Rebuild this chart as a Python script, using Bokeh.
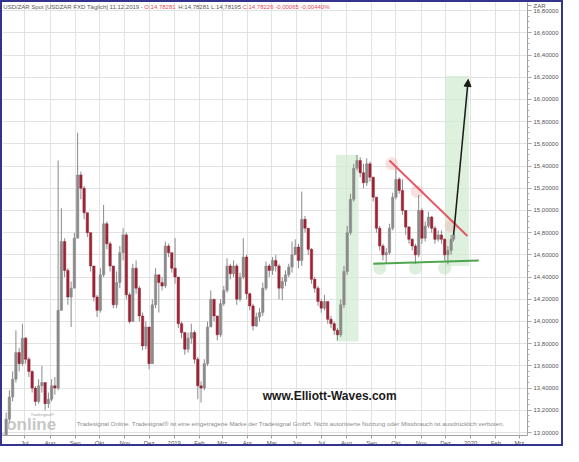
import pandas as pd
from bokeh.plotting import figure
from bokeh.models import ColumnDataSource, FixedTicker, Range1d, Label, Arrow, NormalHead
from bokeh.embed import file_html
from bokeh.resources import INLINE

# ---------------- data ----------------
BASE = "2018-06-04"
bar_dates = list(pd.date_range("2018-06-04", periods=139, freq="4D").strftime("%Y-%m-%d")) + ["2019-12-11"]
first_open = 12.75
closes = [
    12.95, 13.12, 13.32, 13.48, 13.72, 13.62, 13.85, 13.66, 13.55, 13.40,
    13.28, 13.42, 13.45, 13.26, 13.30, 13.42, 13.40, 14.10, 14.72, 14.46,
    14.22, 14.30, 14.75, 15.32, 15.20, 14.98, 14.80, 14.50, 14.22, 14.10,
    14.42, 14.88, 14.70, 14.50, 14.15, 14.35, 14.62, 14.78, 14.24, 14.00,
    14.48, 14.30, 14.05, 13.78, 13.95, 13.62, 14.15, 14.42, 14.35, 14.32,
    14.68, 14.62, 14.48, 14.40, 13.98, 13.90, 13.75, 13.85, 13.90, 13.66,
    13.42, 13.40, 13.62, 13.95, 14.20, 14.05, 13.88, 14.16, 14.28, 14.50,
    14.43, 14.50, 14.20, 14.40, 14.58, 14.25, 14.14, 13.96, 14.04, 14.08,
    14.30, 14.50, 14.46, 14.55, 14.50, 14.30, 14.36, 14.42, 14.49, 14.60,
    14.67, 14.55, 14.92, 14.84, 14.65, 14.38, 14.30, 14.18, 14.12, 14.18,
    14.02, 13.98, 13.92, 13.88, 14.15, 14.45, 14.80, 15.10, 15.38, 15.45,
    15.34, 15.25, 15.42, 15.30, 15.12, 14.84, 14.68, 14.60, 14.62, 14.84,
    15.12, 15.28, 15.18, 15.00, 14.85, 14.74, 14.68, 14.60, 15.00, 14.75,
    14.86, 14.94, 14.84, 14.74, 14.78, 14.74, 14.60, 14.64, 14.74, 14.78,
]
highs = [
    13.00, 13.18, 13.38, 13.55, 13.92, 13.76, 13.98, 13.86, 13.68, 13.56,
    13.42, 13.48, 13.60, 13.45, 13.36, 13.48, 13.50, 15.45, 15.02, 14.75,
    14.48, 14.36, 14.80, 15.70, 15.35, 15.22, 14.98, 14.80, 14.50, 14.24,
    14.48, 15.05, 14.90, 14.72, 14.50, 14.45, 14.68, 14.84, 14.80, 14.26,
    14.52, 14.55, 14.32, 14.08, 14.00, 13.95, 14.20, 14.48, 14.42, 14.40,
    14.72, 14.70, 14.62, 14.75, 14.40, 14.00, 13.90, 13.90, 13.98, 13.92,
    13.68, 13.46, 13.66, 14.00, 14.28, 14.20, 14.05, 14.20, 14.32, 14.57,
    14.52, 14.55, 14.52, 14.44, 14.75, 14.60, 14.26, 14.16, 14.08, 14.12,
    14.35, 14.54, 14.52, 14.58, 14.60, 14.52, 14.40, 14.46, 14.52, 14.72,
    14.74, 14.70, 15.17, 14.95, 14.84, 14.66, 14.40, 14.32, 14.20, 14.24,
    14.18, 14.05, 14.00, 13.94, 14.20, 14.50, 14.86, 15.15, 15.42, 15.50,
    15.48, 15.42, 15.47, 15.44, 15.30, 15.12, 14.86, 14.70, 14.66, 14.88,
    15.16, 15.38, 15.30, 15.28, 15.00, 14.86, 14.75, 14.70, 15.14, 15.02,
    14.90, 14.99, 14.95, 14.86, 14.82, 14.82, 14.75, 14.68, 14.78, 14.80,
]
lows = [
    12.80, 12.92, 13.08, 13.28, 13.45, 13.55, 13.60, 13.62, 13.50, 13.36,
    13.24, 13.26, 13.36, 13.20, 13.22, 13.28, 13.34, 13.38, 14.10, 14.40,
    14.15, 13.95, 14.30, 14.75, 15.10, 14.92, 14.76, 14.45, 14.18, 14.04,
    14.08, 14.40, 14.65, 14.45, 14.12, 14.12, 14.30, 14.55, 14.20, 13.98,
    14.00, 14.25, 14.00, 13.74, 13.75, 13.57, 13.62, 14.12, 14.08, 14.28,
    14.30, 14.58, 14.44, 14.34, 13.94, 13.85, 13.70, 13.72, 13.80, 13.62,
    13.30, 13.27, 13.38, 13.60, 13.95, 14.00, 13.83, 13.86, 14.14, 14.26,
    14.38, 14.40, 14.15, 14.18, 14.38, 14.20, 14.10, 13.92, 13.95, 14.00,
    14.05, 14.28, 14.40, 14.42, 14.45, 14.20, 14.19, 14.32, 14.40, 14.44,
    14.60, 14.48, 14.50, 14.80, 14.60, 14.34, 14.26, 14.14, 14.08, 14.10,
    13.98, 13.94, 13.88, 13.83, 13.86, 14.12, 14.42, 14.78, 15.08, 15.36,
    15.30, 15.20, 15.22, 15.26, 15.08, 14.80, 14.64, 14.55, 14.52, 14.60,
    14.82, 15.10, 15.15, 14.96, 14.78, 14.70, 14.64, 14.52, 14.58, 14.70,
    14.72, 14.84, 14.80, 14.70, 14.72, 14.70, 14.55, 14.52, 14.60, 14.72,
]

month_dates = ["2018-07-01", "2018-08-01", "2018-09-01", "2018-10-01", "2018-11-01", "2018-12-01",
               "2019-01-01", "2019-02-01", "2019-03-01", "2019-04-01", "2019-05-01", "2019-06-01",
               "2019-07-01", "2019-08-01", "2019-09-01", "2019-10-01", "2019-11-01", "2019-12-01",
               "2020-01-01", "2020-02-01", "2020-03-01"]
month_labels = ["Jul", "Aug", "Sep", "Okt", "Nov", "Dez", "2019", "Feb", "Mrz", "Apr", "Mai", "Jun",
                "Jul", "Aug", "Sep", "Okt", "Nov", "Dez", "2020", "Feb", "Mrz"]
y_ticks = [13.0, 13.2, 13.4, 13.6, 13.8, 14.0, 14.2, 14.4, 14.6, 14.8, 15.0, 15.2, 15.4, 15.6,
           15.8, 16.0, 16.2, 16.4, 16.6, 16.8]
y_tick_labels = ["13,00000", "13,20000", "13,40000", "13,60000", "13,80000", "14,00000", "14,20000",
                 "14,40000", "14,60000", "14,80000", "15,00000", "15,20000", "15,40000", "15,60000",
                 "15,80000", "16,00000", "16,20000", "16,40000", "16,60000", "16,80000"]
unit_label = "ZAR"

# drawn annotations (date, price)
zones = [("2019-07-19", "2019-08-16", 13.82, 15.50), ("2019-12-01", "2019-12-30", 14.50, 16.21)]
resistance = [("2019-09-23", 15.45), ("2019-12-28", 14.77)]
support = [("2019-09-03", 14.52), ("2020-01-11", 14.55)]
arrow_pts = [("2019-12-11", 14.78), ("2019-12-29", 16.18)]
peak_marks = [("2019-09-26", 15.42), ("2019-10-27", 15.17), ("2019-12-08", 14.86)]
trough_marks = [("2019-09-11", 14.48), ("2019-10-25", 14.48), ("2019-11-30", 14.48)]


def dnum(s):
    return (pd.Timestamp(s) - pd.Timestamp(BASE)).days


Y0, Y1 = 12.973, 16.873

# ---------------- figure ----------------
p = figure(width=563, height=446, output_backend="svg", toolbar_location=None,
           x_range=Range1d(-0.5, 646), y_range=Range1d(Y0, Y1),
           y_axis_location="right", min_border_left=0, min_border_right=38,
           min_border_top=0, min_border_bottom=12)
p.outline_line_color = None
p.background_fill_color = "white"
p.border_fill_color = "white"
p.styles = {"border": "2px solid #34348f"}

xt = [dnum(d) for d in month_dates]
p.xaxis.ticker = FixedTicker(ticks=xt)
p.xaxis.major_label_overrides = {k: v for k, v in zip(xt, month_labels)}
p.xaxis.major_label_text_align = "left"
p.xaxis.major_label_text_font_size = "6px"
p.xaxis.major_label_text_color = "#555555"
p.xaxis.major_label_standoff = 1
p.xaxis.major_tick_out = 3
p.xaxis.major_tick_in = 0
p.xaxis.axis_line_color = "#a0a0a0"
p.xaxis.major_tick_line_color = "#a0a0a0"
p.xaxis.minor_tick_line_color = None

unit_y = 16.845
minor = [13.0 + 0.05 * i for i in range(77)]
p.yaxis.ticker = FixedTicker(ticks=y_ticks + [unit_y], minor_ticks=minor)
overrides = {k: v for k, v in zip(y_ticks, y_tick_labels)}
overrides[unit_y] = unit_label
p.yaxis.major_label_overrides = overrides
p.yaxis.major_label_text_font_size = "6px"
p.yaxis.major_label_text_color = "#555555"
p.yaxis.major_label_standoff = 2
p.yaxis.major_tick_out = 4
p.yaxis.major_tick_in = 0
p.yaxis.minor_tick_out = 2
p.yaxis.minor_tick_in = 0
p.yaxis.axis_line_color = "#a0a0a0"
p.yaxis.major_tick_line_color = "#a0a0a0"
p.yaxis.minor_tick_line_color = "#b0b0b0"

p.xgrid.ticker = FixedTicker(ticks=xt)
p.ygrid.ticker = FixedTicker(ticks=y_ticks)
p.grid.grid_line_color = "#e2e2e2"
p.grid.grid_line_width = 1

# green zones
p.quad(left=[dnum(z[0]) for z in zones], right=[dnum(z[1]) for z in zones],
       bottom=[z[2] for z in zones], top=[z[3] for z in zones],
       fill_color="#d3ebd3", fill_alpha=0.75, line_color=None)

# peak / trough highlight blobs
p.scatter([dnum(a) for a, b in peak_marks], [b for a, b in peak_marks], size=13,
          fill_color="#f2a9a9", fill_alpha=0.35, line_color=None)
p.scatter([dnum(a) for a, b in trough_marks], [b for a, b in trough_marks], size=13,
          fill_color="#a9d9a9", fill_alpha=0.4, line_color=None)

# candles
xs = [dnum(d) for d in bar_dates]
opens = [first_open] + closes[:-1]
src = ColumnDataSource(dict(
    x=xs, high=highs, low=lows,
    top=[max(o, c) for o, c in zip(opens, closes)],
    bottom=[min(o, c) for o, c in zip(opens, closes)],
    color=["#8a8a8a" if c >= o else "#9a2536" for o, c in zip(opens, closes)],
))
p.segment(x0="x", y0="high", x1="x", y1="low", source=src, line_color="#8a8a8a", line_width=1)
p.vbar(x="x", width=3.0, top="top", bottom="bottom", source=src,
       fill_color="color", line_color="color", line_width=0.5)

# trend lines
p.line([dnum(a) for a, b in resistance], [b for a, b in resistance],
       line_color="#e0404f", line_width=2, line_alpha=0.85)
p.line([dnum(a) for a, b in support], [b for a, b in support],
       line_color="#3c9c3c", line_width=2, line_alpha=0.9)

# projection arrow
p.add_layout(Arrow(end=NormalHead(size=7, fill_color="#1a1a1a", line_color="#1a1a1a"),
                   x_start=dnum(arrow_pts[0][0]), y_start=arrow_pts[0][1],
                   x_end=dnum(arrow_pts[1][0]), y_end=arrow_pts[1][1],
                   line_color="#1a1a1a", line_width=1.5))

# header
hdr_y = 16.835
for xx, txt, col in [(0.5, "USD/ZAR Spot [USDZAR FXD Täglich] 11.12.2019 -", "#555555"),
                     (174, "O:14,78281", "#e0485a"),
                     (216, "H:14,78281 L:14,78195", "#555555"),
                     (295, "C:14,78226 -0,00065 -0,00440%", "#e0485a")]:
    p.add_layout(Label(x=xx, y=hdr_y, text=txt, text_font="Liberation Sans", text_font_size="6px",
                       text_color=col, text_baseline="middle"))

# watermark and footer
p.add_layout(Label(x=dnum("2019-04-20"), y=13.33, text="www.Elliott-Waves.com",
                   text_font="Liberation Sans", text_font_style="bold", text_font_size="12px",
                   text_color="#1a1a1a", text_baseline="middle"))
p.add_layout(Label(x=dnum("2018-09-03"), y=13.08,
                   text="Tradesignal Online. Tradesignal\u00ae ist eine eingetragene Marke der Tradesignal GmbH. "
                        "Nicht autorisierte Nutzung oder Missbrauch ist ausdr\u00fccklich verboten.",
                   text_font="Liberation Sans", text_font_size="6.2px", text_color="#8a8a8a",
                   text_baseline="middle"))
p.add_layout(Label(x=4, y=12.99, text="online", text_font="Liberation Sans", text_font_style="bold",
                   text_font_size="17px", text_color="#b8b8b8", text_alpha=0.8, text_baseline="bottom"))
p.add_layout(Label(x=34, y=13.16, text="Tradesignal\u00ae", text_font="Liberation Sans",
                   text_font_style="italic", text_font_size="4px", text_color="#999999",
                   text_baseline="middle"))

open("out.html", "w").write(file_html(p, INLINE))
